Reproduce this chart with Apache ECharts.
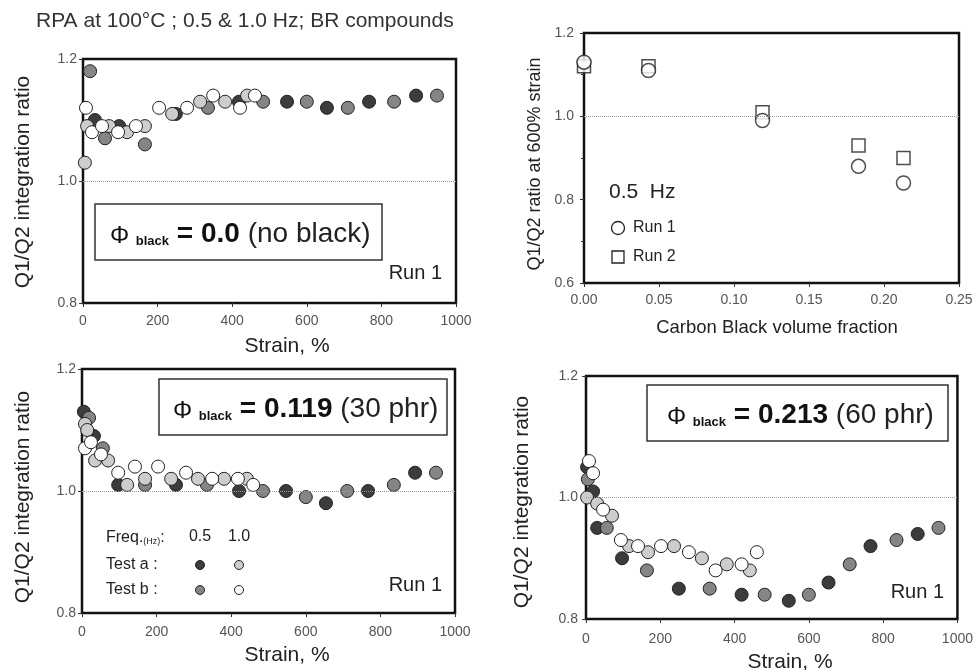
<!DOCTYPE html>
<html><head><meta charset="utf-8">
<script src="https://cdn.jsdelivr.net/npm/echarts@6/dist/echarts.min.js"></script>
<style>html,body{margin:0;padding:0;background:#fff}#c{width:976px;height:670px}</style>
</head><body><div id="c"></div>
<script>
// ---------- DATA ----------
const titleText = 'RPA at 100°C ; 0.5 & 1.0 Hz; BR compounds';
const strainTicks = [0, 200, 400, 600, 800, 1000];

// Panel 1: phi black = 0.0 (no black)  [strain %, Q1/Q2]
const p1TestA05 = [[32,1.10],[97,1.09],[249,1.11],[418,1.13],[547,1.13],[654,1.12],[767,1.13],[893,1.14]];
const p1TestB05 = [[19,1.18],[59,1.07],[166,1.06],[335,1.12],[483,1.13],[600,1.13],[710,1.12],[834,1.13],[949,1.14]];
const p1TestA10 = [[5,1.03],[11,1.09],[70,1.09],[118,1.08],[166,1.09],[239,1.11],[314,1.13],[381,1.13],[440,1.14]];
const p1TestB10 = [[8,1.12],[24,1.08],[51,1.09],[94,1.08],[142,1.09],[204,1.12],[279,1.12],[349,1.14],[421,1.12],[461,1.14]];

// Panel 2: ratio at 600% strain vs carbon black volume fraction
const cbFraction = [0, 0.043, 0.119, 0.183, 0.213];
const run1Ratio = [1.13, 1.11, 0.99, 0.88, 0.84];
const run2Ratio = [1.12, 1.12, 1.01, 0.93, 0.90];

// Panel 3: phi black = 0.119 (30 phr)
const p3TestA05 = [[5,1.13],[32,1.09],[97,1.01],[252,1.01],[421,1.00],[547,1.00],[654,0.98],[767,1.00],[893,1.03]];
const p3TestB05 = [[19,1.12],[56,1.07],[169,1.01],[335,1.01],[485,1.00],[600,0.99],[711,1.00],[836,1.01],[949,1.03]];
const p3TestA10 = [[8,1.11],[14,1.10],[35,1.05],[70,1.05],[121,1.01],[169,1.02],[239,1.02],[311,1.02],[381,1.02],[442,1.02]];
const p3TestB10 = [[8,1.07],[24,1.08],[51,1.06],[97,1.03],[142,1.04],[204,1.04],[279,1.03],[349,1.02],[418,1.02],[459,1.01]];

// Panel 4: phi black = 0.213 (60 phr)
const p4TestA05 = [[3,1.05],[19,1.01],[30,0.95],[97,0.90],[250,0.85],[419,0.84],[546,0.83],[653,0.86],[766,0.92],[893,0.94]];
const p4TestB05 = [[5,1.03],[56,0.95],[164,0.88],[333,0.85],[481,0.84],[600,0.84],[710,0.89],[836,0.93],[949,0.95]];
const p4TestA10 = [[3,1.00],[30,0.99],[70,0.97],[116,0.92],[167,0.91],[237,0.92],[312,0.90],[379,0.89],[441,0.88]];
const p4TestB10 = [[8,1.06],[19,1.04],[46,0.98],[94,0.93],[140,0.92],[202,0.92],[277,0.91],[349,0.88],[419,0.89],[460,0.91]];

// ---------- STYLE ----------
const FONT = "'Liberation Sans', Arial, sans-serif";
const C = {a05:'#3c3c3c', b05:'#858585', a10:'#cdcdcd', b10:'#ffffff'};
const chart = echarts.init(document.getElementById('c'), null, {renderer:'canvas'});

const grids = [
  {left:83, top:59, width:373, height:244},
  {left:584, top:33, width:375, height:250},
  {left:82, top:369, width:373, height:244},
  {left:586, top:376, width:372, height:243}
].map(g => Object.assign(g, {show:true, borderColor:'#111', borderWidth:2.5, backgroundColor:'rgba(0,0,0,0)'}));

function xStrain(i, margin){
  return {gridIndex:i, type:'value', min:strainTicks[0], max:strainTicks[strainTicks.length-1], interval:200,
    axisLine:{show:false}, splitLine:{show:false},
    axisTick:{show:true, length:4, lineStyle:{color:'#333'}},
    axisLabel:{color:'#555', fontSize:14, fontFamily:FONT, margin:margin, formatter:v=>String(v)}};
}
function yRatio(i, min, margin, minor){
  return {gridIndex:i, type:'value', min:min, max:1.2, interval:0.2,
    axisLine:{show:false}, splitLine:{show:false},
    axisTick:{show:true, length:4, lineStyle:{color:'#333'}},
    minorTick:{show:!!minor, splitNumber:2, length:3, lineStyle:{color:'#333'}},
    axisLabel:{color:'#555', fontSize:14, fontFamily:FONT, margin:margin, formatter:v=>v.toFixed(1)}};
}
const refLine = {silent:true, symbol:'none', label:{show:false}, animation:false,
  lineStyle:{type:'dotted', color:'#999', width:1}, data:[{yAxis:1}]};

function sc(data, idx, fill, withLine){
  const s = {type:'scatter', xAxisIndex:idx, yAxisIndex:idx, data:data, symbol:'circle', symbolSize:13, clip:false,
    itemStyle:{color:fill, borderColor:'#222', borderWidth:1, opacity:1}, emphasis:{disabled:true}};
  if (withLine) s.markLine = refLine;
  return s;
}

const series = [
  sc(p1TestA05, 0, C.a05, true), sc(p1TestB05, 0, C.b05), sc(p1TestA10, 0, C.a10), sc(p1TestB10, 0, C.b10),
  {type:'scatter', xAxisIndex:1, yAxisIndex:1, symbol:'rect', symbolSize:13, clip:false,
    data: cbFraction.map((x,k)=>[x, run2Ratio[k]]),
    itemStyle:{color:'#fff', borderColor:'#222', borderWidth:1.5}, emphasis:{disabled:true}, markLine:refLine},
  {type:'scatter', xAxisIndex:1, yAxisIndex:1, symbol:'circle', symbolSize:14, clip:false,
    data: cbFraction.map((x,k)=>[x, run1Ratio[k]]),
    itemStyle:{color:'#fff', borderColor:'#222', borderWidth:1.5}, emphasis:{disabled:true}},
  sc(p3TestA05, 2, C.a05, true), sc(p3TestB05, 2, C.b05), sc(p3TestA10, 2, C.a10), sc(p3TestB10, 2, C.b10),
  sc(p4TestA05, 3, C.a05, true), sc(p4TestB05, 3, C.b05), sc(p4TestA10, 3, C.a10), sc(p4TestB10, 3, C.b10)
];

// ---------- ANNOTATIONS ----------
function txt(x, y, text, size, opts){
  return Object.assign({type:'text', x:x, y:y, z:100, style:Object.assign({text:text, fill:'#222', font: size+'px '+FONT,
    align:'left', verticalAlign:'middle'}, (opts||{}).style||{})}, (opts||{}).el||{});
}
function vtxt(x, y, text, size){
  return {type:'text', x:x, y:y, rotation:Math.PI/2, z:100,
    style:{text:text, fill:'#222', font:size+'px '+FONT, align:'center', verticalAlign:'middle'}};
}
const phiRich = {
  p:{fontSize:24, fontFamily:FONT, fill:'#111', verticalAlign:'bottom', lineHeight:31},
  s:{fontSize:13, fontWeight:'bold', fontFamily:FONT, fill:'#111', verticalAlign:'bottom', lineHeight:24},
  b:{fontSize:28, fontWeight:'bold', fontFamily:FONT, fill:'#111', verticalAlign:'bottom', lineHeight:32},
  r:{fontSize:28, fontFamily:FONT, fill:'#222', verticalAlign:'bottom', lineHeight:32}
};
function phiBox(bx, by, bw, bh, tx, ty, value, rest){
  return [
    {type:'rect', shape:{x:bx, y:by, width:bw, height:bh}, z:90, style:{fill:'#fff', stroke:'#333', lineWidth:1.5}},
    {type:'text', x:tx, y:ty, z:100, style:{text:'{p|Φ }{s|black}{b| = '+value+' }{r|'+rest+'}', rich:phiRich,
      align:'left', verticalAlign:'middle'}}
  ];
}
function dot(cx, cy, r, fill){
  return {type:'circle', shape:{cx:cx, cy:cy, r:r}, z:100, style:{fill:fill, stroke:'#222', lineWidth:1}};
}

const graphic = [
  txt(36, 21, titleText, 21, {style:{fill:'#333'}}),
  // panel 1
  vtxt(23, 182, 'Q1/Q2 integration ratio', 21),
  txt(287, 346, 'Strain, %', 21, {style:{align:'center'}}),
  ...phiBox(95, 204, 287, 56, 110, 232, '0.0', '(no black)'),
  txt(442, 273, 'Run 1', 20, {style:{align:'right'}}),
  // panel 2
  vtxt(535, 164, 'Q1/Q2 ratio at 600% strain', 18),
  txt(777, 328, 'Carbon Black volume fraction', 18.5, {style:{align:'center'}}),
  txt(609, 192, '0.5  Hz', 21),
  {type:'circle', shape:{cx:618, cy:228, r:6.5}, z:100, style:{fill:'#fff', stroke:'#222', lineWidth:1.3}},
  txt(633, 228, 'Run 1', 16),
  {type:'rect', shape:{x:612, y:251, width:12, height:12}, z:100, style:{fill:'#fff', stroke:'#222', lineWidth:1.3}},
  txt(633, 257, 'Run 2', 16),
  // panel 3
  vtxt(23, 497, 'Q1/Q2 integration ratio', 21),
  txt(287, 655, 'Strain, %', 21, {style:{align:'center'}}),
  ...phiBox(159, 379, 288, 56, 173, 407, '0.119', '(30 phr)'),
  {type:'text', x:106, y:537, z:100, style:{text:'{a|Freq.}{b|(Hz)}{a|:}', align:'left', verticalAlign:'middle',
    rich:{a:{fontSize:16, fontFamily:FONT, fill:'#222', verticalAlign:'bottom', lineHeight:18},
          b:{fontSize:9, fontFamily:FONT, fill:'#222', verticalAlign:'bottom', lineHeight:13}}}},
  txt(200, 537, '0.5', 16, {style:{align:'center'}}),
  txt(239, 537, '1.0', 16, {style:{align:'center'}}),
  txt(106, 565, 'Test a :', 16),
  txt(106, 590, 'Test b :', 16),
  dot(200, 565, 4.5, C.a05), dot(239, 565, 4.5, C.a10),
  dot(200, 590, 4.5, C.b05), dot(239, 590, 4.5, C.b10),
  txt(442, 585, 'Run 1', 20, {style:{align:'right'}}),
  // panel 4
  vtxt(522, 502, 'Q1/Q2 integration ratio', 21),
  txt(790, 662, 'Strain, %', 21, {style:{align:'center'}}),
  ...phiBox(647, 385, 301, 56, 667, 413, '0.213', '(60 phr)'),
  txt(944, 592, 'Run 1', 20, {style:{align:'right'}})
];

chart.setOption({
  animation:false,
  backgroundColor:'#fff',
  textStyle:{fontFamily:FONT},
  grid:grids,
  xAxis:[
    xStrain(0, 11),
    {gridIndex:1, type:'value', min:0, max:0.25, interval:0.05,
      axisLine:{show:false}, splitLine:{show:false},
      axisTick:{show:true, length:4, lineStyle:{color:'#333'}},
      axisLabel:{color:'#555', fontSize:14, fontFamily:FONT, margin:10, formatter:v=>v.toFixed(2)}},
    xStrain(2, 12),
    xStrain(3, 13)
  ],
  yAxis:[
    yRatio(0, 0.8, 6),
    yRatio(1, 0.6, 10, true),
    yRatio(2, 0.8, 6),
    yRatio(3, 0.8, 8)
  ],
  series:series,
  graphic:graphic
});
</script>
</body></html>
